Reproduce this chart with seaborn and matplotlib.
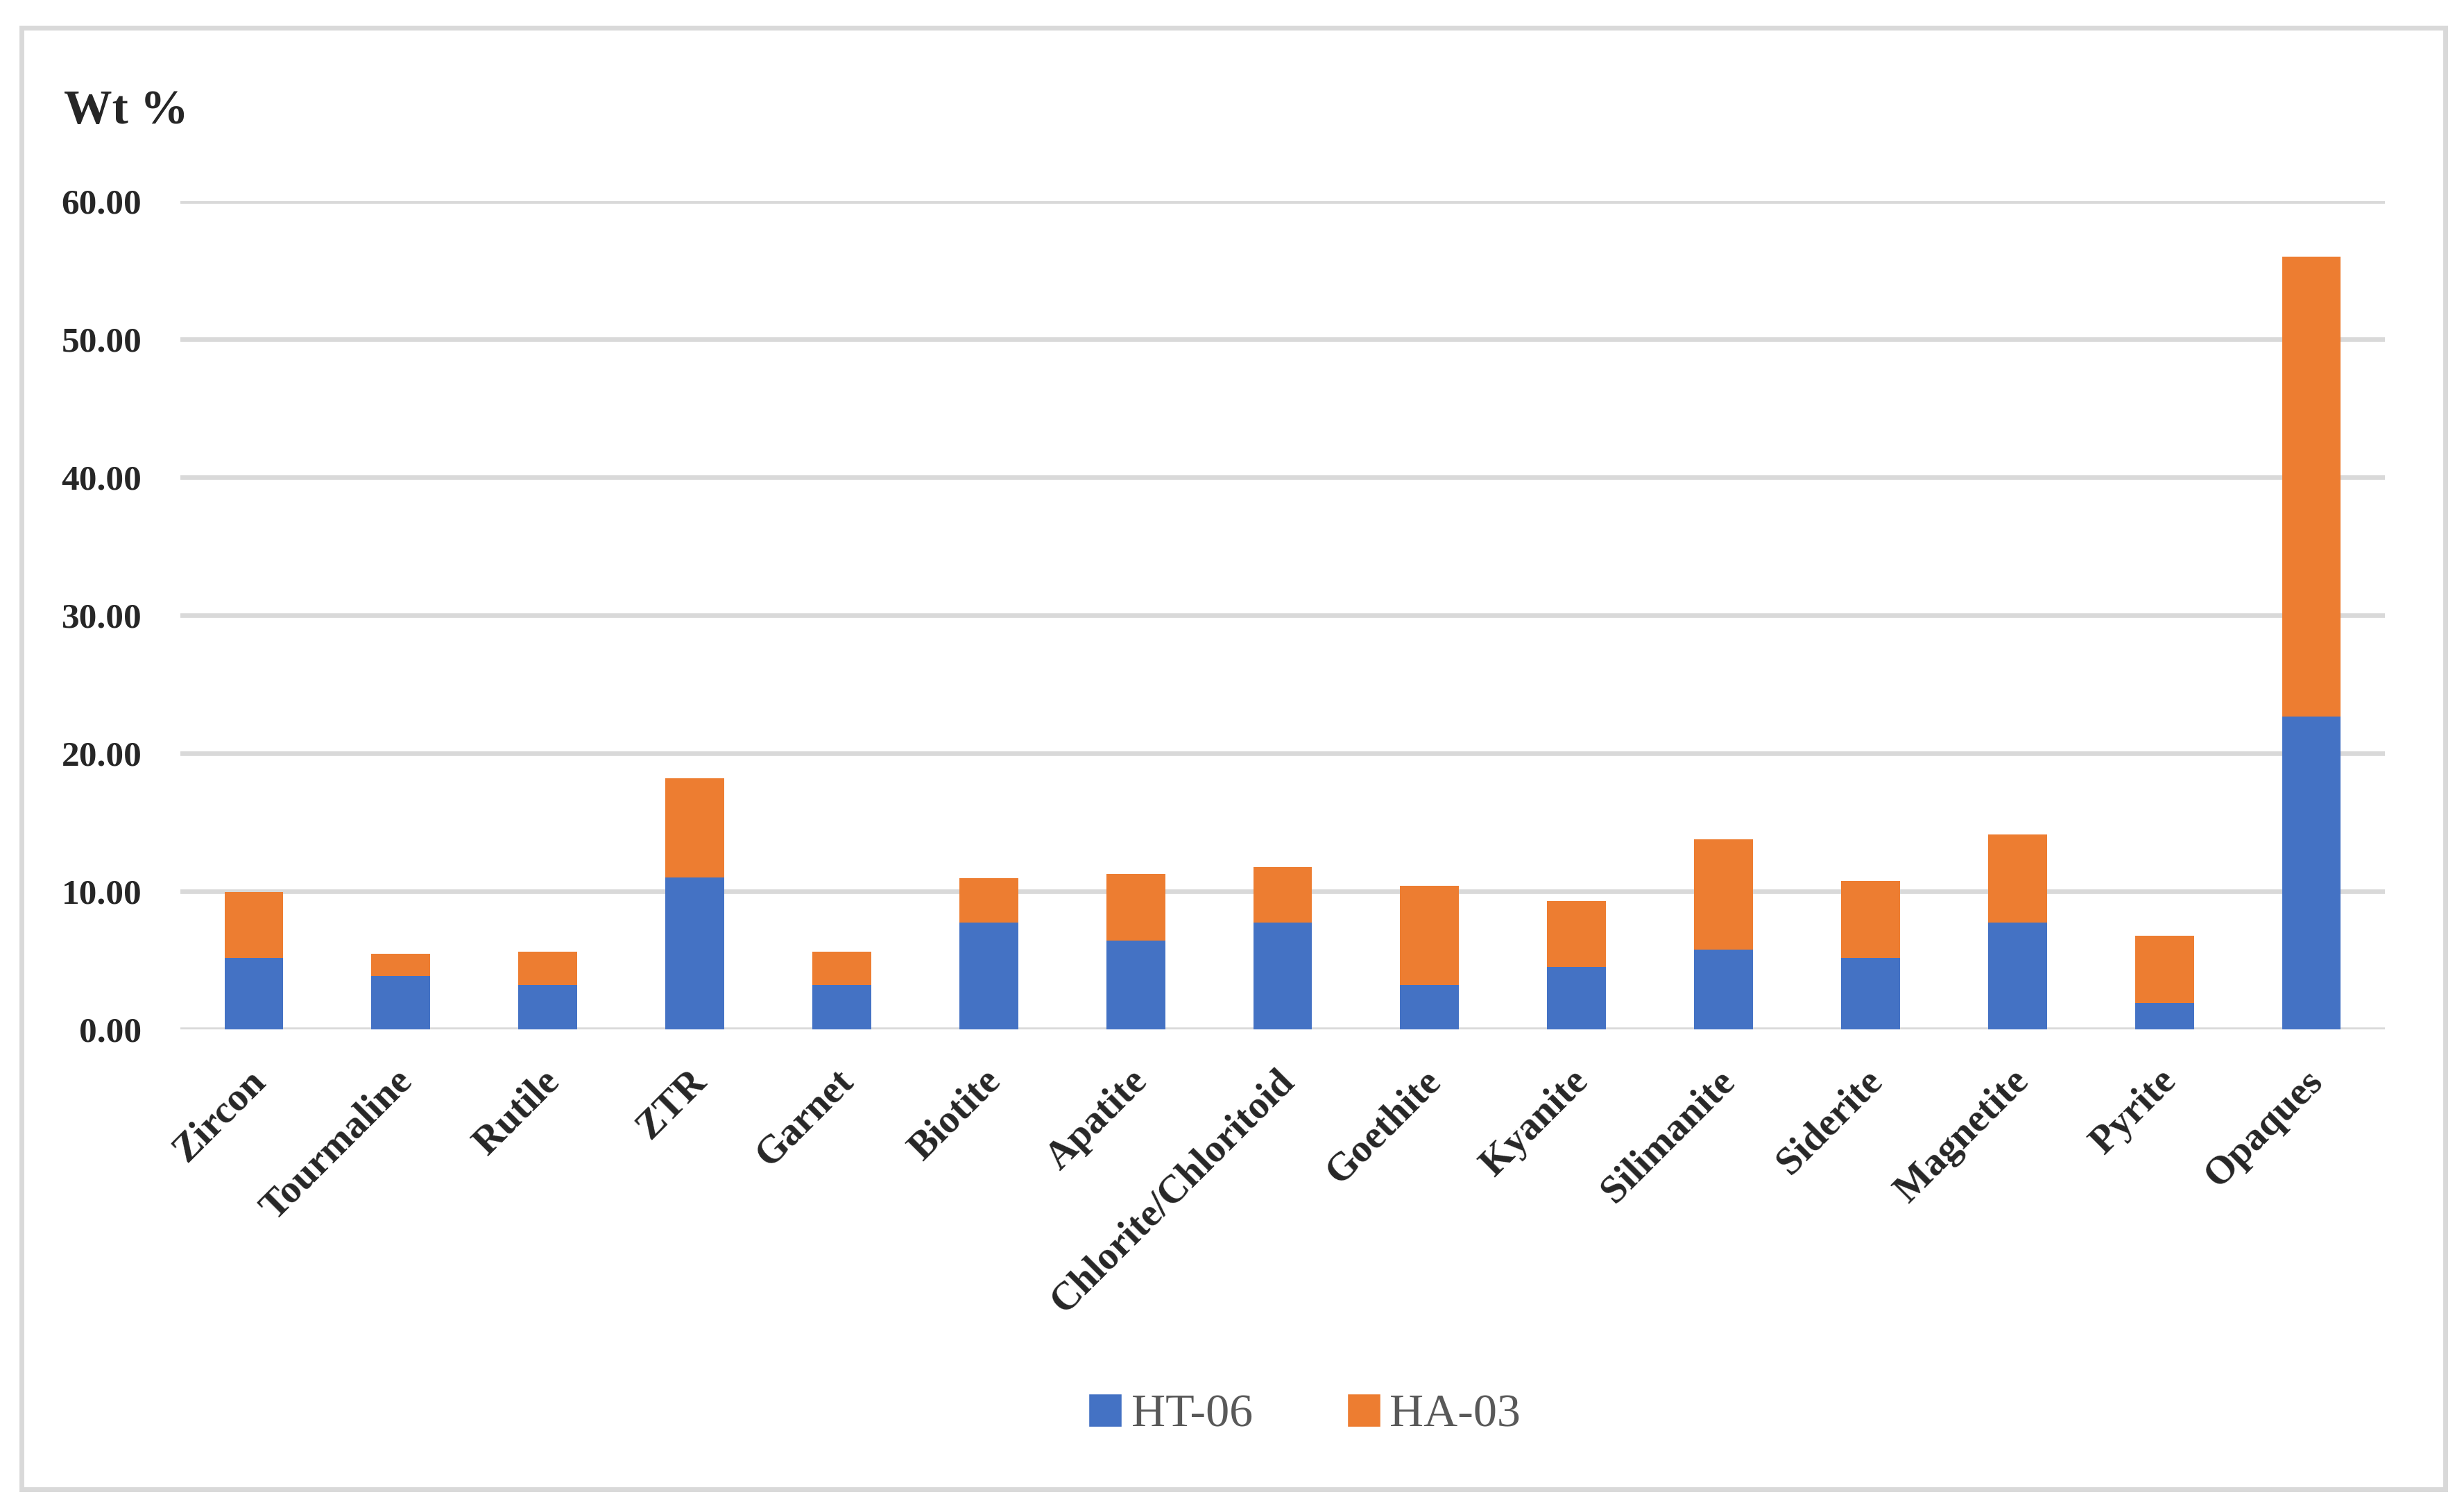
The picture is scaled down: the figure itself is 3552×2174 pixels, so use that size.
import matplotlib
matplotlib.use("Agg")
import matplotlib.pyplot as plt
import matplotlib.transforms as mtransforms
import seaborn as sns
import pandas as pd
import numpy as np
from matplotlib.patches import Rectangle, Patch

minerals = ["Zircon", "Tourmaline", "Rutile", "ZTR", "Garnet", "Biotite", "Apatite",
            "Chlorite/Chloritoid", "Goethite", "Kyanite", "Silimanite", "Siderite",
            "Magnetite", "Pyrite", "Opaques"]
ht06 = [5.19, 3.89, 3.23, 11.02, 3.23, 7.76, 6.45, 7.76, 3.23, 4.54, 5.80, 5.19, 7.76, 1.92, 22.64]
ha03 = [4.78, 1.60, 2.42, 7.19, 2.42, 3.21, 4.82, 4.02, 7.19, 4.77, 7.99, 5.58, 6.38, 4.84, 33.36]
yticks = [0, 10, 20, 30, 40, 50, 60]

BLUE = "#4472C4"
ORANGE = "#ED7D31"
GRID = "#D9D9D9"

sns.set_theme(style="white")
plt.rcParams["font.family"] = ["Liberation Serif", "DejaVu Serif"]

df = pd.DataFrame({"mineral": minerals, "HT-06": ht06, "HA-03": ha03})
df["total"] = df["HT-06"] + df["HA-03"]

fig = plt.figure(figsize=(35.52, 21.74), dpi=100)
ax = fig.add_axes([0.0732, 0.3174, 0.8947, 0.5492])

sns.barplot(data=df, x="mineral", y="total", color=ORANGE, width=0.4,
            saturation=1, ax=ax, zorder=3, linewidth=0, edgecolor="none")
sns.barplot(data=df, x="mineral", y="HT-06", color=BLUE, width=0.4,
            saturation=1, ax=ax, zorder=4, linewidth=0, edgecolor="none")

ax.set_xlim(-0.5, len(minerals) - 0.5)
ax.set_ylim(0, 60)
ax.set_yticks(yticks)
ax.set_yticklabels([f"{v:.2f}" for v in yticks], fontsize=37, fontweight="bold")
ax.yaxis.grid(True, color=GRID, linewidth=4.8, zorder=0)
ax.set_axisbelow(True)
for s in ax.spines.values():
    s.set_visible(False)
ax.tick_params(axis="y", length=0, pad=40)
ax.tick_params(axis="x", length=0, pad=32)
ax.set_xlabel("")
ax.set_ylabel("")
ax.set_xticks(range(len(minerals)))
ax.set_xticklabels(minerals, rotation=45, ha="right", rotation_mode="anchor",
                   fontsize=41, fontweight="bold")
offset = mtransforms.ScaledTranslation(-10 / 100, -4 / 100, fig.dpi_scale_trans)
for lbl in ax.get_xticklabels():
    lbl.set_transform(lbl.get_transform() + offset)

fig.text(0.0259, 0.926, "Wt %", fontsize=50, fontweight="bold", ha="left", va="center")

handles = [Patch(facecolor=BLUE, label="HT-06"), Patch(facecolor=ORANGE, label="HA-03")]
leg = fig.legend(handles=handles, loc="center", bbox_to_anchor=(0.5295, 0.0616),
                 ncol=2, frameon=False, fontsize=49, handlelength=0.7, handleheight=0.7,
                 handletextpad=0.2, columnspacing=2.0)
for t in leg.get_texts():
    t.set_color("#595959")

rect = Rectangle((31 / 3552, 1 - 2147 / 2174), (3525 - 31) / 3552, (2147 - 40) / 2174,
                 transform=fig.transFigure, fill=False, edgecolor=GRID, linewidth=5)
fig.patches.append(rect)

fig.savefig("out.png", dpi=100, facecolor="white")
